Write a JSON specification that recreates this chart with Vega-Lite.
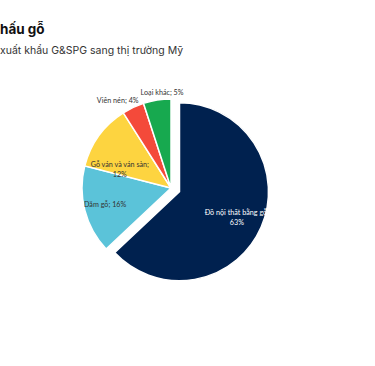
{
  "$schema": "https://vega.github.io/schema/vega-lite/v6.json",
  "width": 342,
  "height": 256,
  "autosize": "none",
  "padding": {"left": 0, "top": 60, "right": 33, "bottom": 50},
  "background": "white",
  "title": {
    "text": "hấu gỗ",
    "subtitle": "\u00a0xuất khẩu G&SPG sang thị trường Mỹ",
    "anchor": "start",
    "frame": "group",
    "offset": 4,
    "font": "Inter",
    "fontSize": 13.5,
    "fontWeight": "bold",
    "color": "#111111",
    "subtitleFont": "Inter",
    "subtitleFontSize": 10.5,
    "subtitleColor": "#333333",
    "subtitlePadding": 9
  },
  "config": {"view": {"stroke": null}},
  "data": {
    "values": [
      {"category": "Đồ nội thất bằng gỗ", "value": 63, "ord": 1, "label": "Đồ nội thất bằng gỗ;\n63%"},
      {"category": "Dăm gỗ", "value": 16, "ord": 2, "label": "Dăm gỗ; 16%"},
      {"category": "Gỗ ván và ván sàn", "value": 12, "ord": 3, "label": "Gỗ ván và ván sàn;\n12%"},
      {"category": "Viên nén", "value": 4, "ord": 4, "label": "Viên nén; 4%"},
      {"category": "Loại khác", "value": 5, "ord": 5, "label": "Loại khác; 5%"}
    ]
  },
  "encoding": {
    "theta": {"field": "value", "type": "quantitative", "stack": true},
    "order": {"field": "ord", "type": "quantitative"}
  },
  "layer": [
    {
      "mark": {"type": "arc", "radius": 89, "stroke": "white", "strokeWidth": 1.5},
      "encoding": {
        "color": {
          "field": "category", "type": "nominal", "legend": null,
          "scale": {
            "domain": ["Đồ nội thất bằng gỗ", "Dăm gỗ", "Gỗ ván và ván sàn", "Viên nén", "Loại khác"],
            "range": ["#00214f", "#5bc3d9", "#fdd440", "#f44a3a", "#17a94f"]
          }
        },
        "opacity": {"condition": {"test": "datum.ord == 1", "value": 0}, "value": 1}
      }
    },
    {
      "mark": {"type": "arc", "radius": 89, "stroke": "white", "strokeWidth": 1.5, "xOffset": 8.5, "yOffset": 3.7},
      "encoding": {
        "color": {"field": "category", "type": "nominal", "legend": null},
        "opacity": {"condition": {"test": "datum.ord == 1", "value": 1}, "value": 0}
      }
    },
    {
      "mark": {"type": "text", "radius": 61, "thetaOffset": -0.06, "xOffset": 8.5, "yOffset": 3.7, "lineBreak": "\n", "font": "Lato", "fontSize": 7.2, "color": "white", "lineHeight": 10},
      "encoding": {
        "text": {"field": "label", "type": "nominal"},
        "opacity": {"condition": {"test": "datum.ord == 1", "value": 1}, "value": 0}
      }
    },
    {
      "mark": {"type": "text", "radius": 68, "lineBreak": "\n", "font": "Lato", "fontSize": 7.2, "color": "#333333", "lineHeight": 10},
      "encoding": {
        "text": {"field": "label", "type": "nominal"},
        "opacity": {"condition": {"test": "datum.ord == 2", "value": 1}, "value": 0}
      }
    },
    {
      "mark": {"type": "text", "radius": 56, "thetaOffset": -0.21, "lineBreak": "\n", "font": "Lato", "fontSize": 7.2, "color": "#333333", "lineHeight": 10},
      "encoding": {
        "text": {"field": "label", "type": "nominal"},
        "opacity": {"condition": {"test": "datum.ord == 3", "value": 1}, "value": 0}
      }
    },
    {
      "mark": {"type": "text", "radius": 102, "thetaOffset": -0.11, "font": "Lato", "fontSize": 7.2, "color": "#333333"},
      "encoding": {
        "text": {"field": "label", "type": "nominal"},
        "opacity": {"condition": {"test": "datum.ord == 4", "value": 1}, "value": 0}
      }
    },
    {
      "mark": {"type": "text", "radius": 95, "thetaOffset": 0.063, "font": "Lato", "fontSize": 7.2, "color": "#333333"},
      "encoding": {
        "text": {"field": "label", "type": "nominal"},
        "opacity": {"condition": {"test": "datum.ord == 5", "value": 1}, "value": 0}
      }
    }
  ]
}
